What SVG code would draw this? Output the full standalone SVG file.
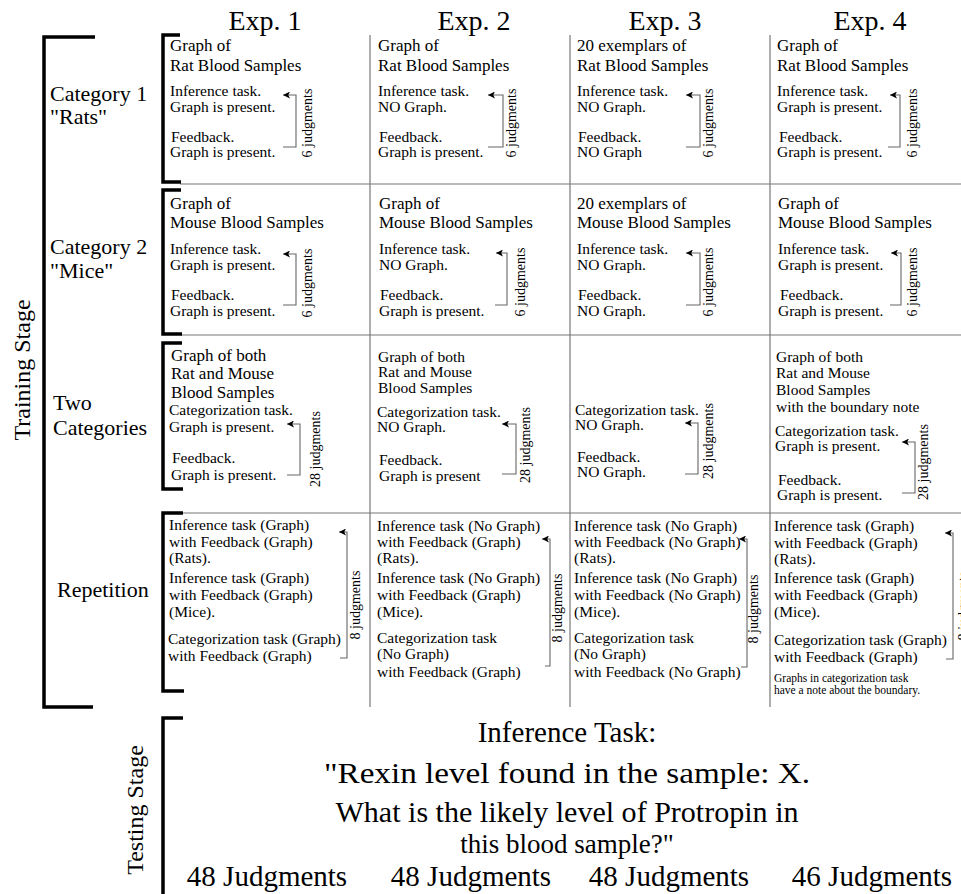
<svg xmlns="http://www.w3.org/2000/svg" width="961" height="894" viewBox="0 0 961 894">
<style>
text{font-family:"Liberation Serif","Times New Roman",serif;fill:#000}
.hd{font-size:28px;text-anchor:middle}
.lb{font-size:22px}
.st{font-size:24px;text-anchor:middle}
.t1{font-size:17px}
.t2{font-size:15.5px}
.t3{font-size:11.5px}
.jd{font-size:14px;text-anchor:middle}
.big{font-size:29px;text-anchor:middle}
.grid{stroke:#777;stroke-width:1.2;fill:none}
.br{stroke:#000;stroke-width:3.5;fill:none}
.ar{stroke:#666;stroke-width:1.1;fill:none}
</style>
<defs>
<marker id="ah" viewBox="0 0 10 10" refX="10" refY="5" markerWidth="10" markerHeight="7" orient="auto" markerUnits="userSpaceOnUse">
<path d="M0,0 L10,5 L0,10 L2.5,5 z" fill="#000"/>
</marker>
</defs>

<g id="headers">
<text class="hd" x="265" y="30">Exp. 1</text>
<text class="hd" x="474" y="30">Exp. 2</text>
<text class="hd" x="665" y="30">Exp. 3</text>
<text class="hd" x="870" y="30">Exp. 4</text>
</g>

<g id="grid">
<path class="grid" d="M180,184 H961 M181,335 H961 M183,513 H961 M370,35 V707 M570,35 V707 M770,35 V707"/>
</g>

<g id="brackets">
<path class="br" d="M95,37 H44 V707 H93"/>
<path class="br" d="M180,35 H163 V182 H181"/>
<path class="br" d="M181,190 H163 V334 H182"/>
<path class="br" d="M182,343 H163 V489 H183"/>
<path class="br" d="M183,513 H163 V691 H184"/>
<path class="br" d="M183,718 H163 V896"/>
</g>

<g id="stage-training">
<text class="st" transform="translate(30,370) rotate(-90)">Training Stage</text>
</g>
<g id="stage-testing">
<text class="st" transform="translate(143,810) rotate(-90)">Testing Stage</text>
</g>

<g id="label-cat1"><text class="lb" x="50" y="101">Category 1</text><text class="lb" x="50" y="124">"Rats"</text></g>
<g id="label-cat2"><text class="lb" x="50" y="254">Category 2</text><text class="lb" x="50" y="278">"Mice"</text></g>
<g id="label-two"><text class="lb" x="53" y="410">Two</text><text class="lb" x="53" y="435">Categories</text></g>
<g id="label-rep"><text class="lb" x="57" y="597">Repetition</text></g>

<!-- Row 1 -->
<g id="r1c1">
<text class="t1" x="170" y="51">Graph of</text>
<text class="t1" x="170" y="71">Rat Blood Samples</text>
<text class="t2" x="170" y="96">Inference task.</text>
<text class="t2" x="170" y="112">Graph is present.</text>
<text class="t2" x="171" y="142">Feedback.</text>
<text class="t2" x="170" y="157">Graph is present.</text>
</g>
<g id="r1c2">
<text class="t1" x="378" y="51">Graph of</text>
<text class="t1" x="378" y="71">Rat Blood Samples</text>
<text class="t2" x="378" y="96">Inference task.</text>
<text class="t2" x="378" y="112">NO Graph.</text>
<text class="t2" x="379" y="142">Feedback.</text>
<text class="t2" x="378" y="157">Graph is present.</text>
</g>
<g id="r1c3">
<text class="t1" x="577" y="51">20 exemplars of</text>
<text class="t1" x="577" y="71">Rat Blood Samples</text>
<text class="t2" x="577" y="96">Inference task.</text>
<text class="t2" x="577" y="112">NO Graph.</text>
<text class="t2" x="578" y="142">Feedback.</text>
<text class="t2" x="577" y="157">NO Graph</text>
</g>
<g id="r1c4">
<text class="t1" x="777" y="51">Graph of</text>
<text class="t1" x="777" y="71">Rat Blood Samples</text>
<text class="t2" x="777" y="96">Inference task.</text>
<text class="t2" x="777" y="112">Graph is present.</text>
<text class="t2" x="779" y="142">Feedback.</text>
<text class="t2" x="777" y="157">Graph is present.</text>
</g>

<!-- Row 2 -->
<g id="r2c1">
<text class="t1" x="170" y="209">Graph of</text>
<text class="t1" x="170" y="228">Mouse Blood Samples</text>
<text class="t2" x="170" y="254">Inference task.</text>
<text class="t2" x="170" y="270">Graph is present.</text>
<text class="t2" x="171" y="300">Feedback.</text>
<text class="t2" x="170" y="316">Graph is present.</text>
</g>
<g id="r2c2">
<text class="t1" x="379" y="209">Graph of</text>
<text class="t1" x="379" y="228">Mouse Blood Samples</text>
<text class="t2" x="379" y="254">Inference task.</text>
<text class="t2" x="379" y="270">NO Graph.</text>
<text class="t2" x="380" y="300">Feedback.</text>
<text class="t2" x="379" y="316">Graph is present.</text>
</g>
<g id="r2c3">
<text class="t1" x="577" y="209">20 exemplars of</text>
<text class="t1" x="577" y="228">Mouse Blood Samples</text>
<text class="t2" x="577" y="254">Inference task.</text>
<text class="t2" x="577" y="270">NO Graph.</text>
<text class="t2" x="578" y="300">Feedback.</text>
<text class="t2" x="577" y="316">NO Graph.</text>
</g>
<g id="r2c4">
<text class="t1" x="778" y="209">Graph of</text>
<text class="t1" x="778" y="228">Mouse Blood Samples</text>
<text class="t2" x="778" y="254">Inference task.</text>
<text class="t2" x="778" y="270">Graph is present.</text>
<text class="t2" x="780" y="300">Feedback.</text>
<text class="t2" x="778" y="316">Graph is present.</text>
</g>

<!-- Row 3 -->
<g id="r3c1">
<text class="t1" x="171" y="361">Graph of both</text>
<text class="t1" x="171" y="379">Rat and Mouse</text>
<text class="t1" x="171" y="398">Blood Samples</text>
<text class="t2" x="169" y="415">Categorization task.</text>
<text class="t2" x="169" y="432">Graph is present.</text>
<text class="t2" x="172" y="463">Feedback.</text>
<text class="t2" x="171" y="480">Graph is present.</text>
</g>
<g id="r3c2">
<text class="t2" x="378" y="362">Graph of both</text>
<text class="t2" x="378" y="377">Rat and Mouse</text>
<text class="t2" x="378" y="393">Blood Samples</text>
<text class="t2" x="377" y="417">Categorization task.</text>
<text class="t2" x="377" y="432">NO Graph.</text>
<text class="t2" x="379" y="465">Feedback.</text>
<text class="t2" x="379" y="481">Graph is present</text>
</g>
<g id="r3c3">
<text class="t2" x="575" y="415">Categorization task.</text>
<text class="t2" x="575" y="430">NO Graph.</text>
<text class="t2" x="577" y="462">Feedback.</text>
<text class="t2" x="577" y="477">NO Graph.</text>
</g>
<g id="r3c4">
<text class="t2" x="776" y="362">Graph of both</text>
<text class="t2" x="776" y="378">Rat and Mouse</text>
<text class="t2" x="776" y="395">Blood Samples</text>
<text class="t2" x="776" y="412">with the boundary note</text>
<text class="t2" x="775" y="436">Categorization task.</text>
<text class="t2" x="775" y="451">Graph is present.</text>
<text class="t2" x="778" y="485">Feedback.</text>
<text class="t2" x="777" y="500">Graph is present.</text>
</g>

<!-- Row 4 -->
<g id="r4c1">
<text class="t2" x="169" y="530">Inference task (Graph)</text>
<text class="t2" x="169" y="547">with Feedback (Graph)</text>
<text class="t2" x="169" y="563">(Rats).</text>
<text class="t2" x="169" y="583">Inference task (Graph)</text>
<text class="t2" x="169" y="600">with Feedback (Graph)</text>
<text class="t2" x="169" y="617">(Mice).</text>
<text class="t2" x="168" y="644">Categorization task (Graph)</text>
<text class="t2" x="168" y="661">with Feedback (Graph)</text>
</g>
<g id="r4c2">
<text class="t2" x="377" y="531">Inference task (No Graph)</text>
<text class="t2" x="377" y="547">with Feedback (Graph)</text>
<text class="t2" x="377" y="563">(Rats).</text>
<text class="t2" x="377" y="583">Inference task (No Graph)</text>
<text class="t2" x="377" y="600">with Feedback (Graph)</text>
<text class="t2" x="377" y="617">(Mice).</text>
<text class="t2" x="377" y="643">Categorization task</text>
<text class="t2" x="377" y="659">(No Graph)</text>
<text class="t2" x="377" y="677">with Feedback (Graph)</text>
</g>
<g id="r4c3">
<text class="t2" x="574" y="531">Inference task (No Graph)</text>
<text class="t2" x="574" y="547">with Feedback (No Graph)</text>
<text class="t2" x="574" y="563">(Rats).</text>
<text class="t2" x="574" y="583">Inference task (No Graph)</text>
<text class="t2" x="574" y="600">with Feedback (No Graph)</text>
<text class="t2" x="574" y="617">(Mice).</text>
<text class="t2" x="574" y="643">Categorization task</text>
<text class="t2" x="574" y="659">(No Graph)</text>
<text class="t2" x="574" y="677">with Feedback (No Graph)</text>
</g>
<g id="r4c4">
<text class="t2" x="774" y="531">Inference task (Graph)</text>
<text class="t2" x="774" y="548">with Feedback (Graph)</text>
<text class="t2" x="774" y="564">(Rats).</text>
<text class="t2" x="774" y="583">Inference task (Graph)</text>
<text class="t2" x="774" y="600">with Feedback (Graph)</text>
<text class="t2" x="774" y="617">(Mice).</text>
<text class="t2" x="774" y="645">Categorization task (Graph)</text>
<text class="t2" x="774" y="662">with Feedback (Graph)</text>
<text class="t3" x="774" y="682">Graphs in categorization task</text>
<text class="t3" x="774" y="694">have a note about the boundary.</text>
</g>

<!-- Testing stage -->
<g id="testing">
<text class="big" x="567" y="742">Inference Task:</text>
<text class="big" x="567" y="783" textLength="486" lengthAdjust="spacingAndGlyphs">"Rexin level found in the sample: X.</text>
<text class="big" x="567" y="822" textLength="463" lengthAdjust="spacingAndGlyphs">What is the likely level of Protropin in</text>
<text class="big" x="567" y="853" style="font-size:27px">this blood sample?"</text>
<text class="big" x="267" y="886">48 Judgments</text>
<text class="big" x="471" y="886">48 Judgments</text>
<text class="big" x="669" y="886">48 Judgments</text>
<text class="big" x="872" y="886">46 Judgments</text>
</g>

<!-- Connectors -->
<g id="connectors">
<path class="ar" marker-end="url(#ah)" d="M283,147 H296 V95 H283"/>
<path class="ar" marker-end="url(#ah)" d="M488,147 H503 V95 H488"/>
<path class="ar" marker-end="url(#ah)" d="M686,147 H700 V95 H686"/>
<path class="ar" marker-end="url(#ah)" d="M888,147 H900 V95 H890"/>
<path class="ar" marker-end="url(#ah)" d="M283,305 H296 V254 H283"/>
<path class="ar" marker-end="url(#ah)" d="M495,305 H507 V253 H496"/>
<path class="ar" marker-end="url(#ah)" d="M686,305 H700 V253 H686"/>
<path class="ar" marker-end="url(#ah)" d="M890,305 H901 V253 H891"/>
<path class="ar" marker-end="url(#ah)" d="M287,475 H300 V424 H287"/>
<path class="ar" marker-end="url(#ah)" d="M502,474 H516 V424 H502"/>
<path class="ar" marker-end="url(#ah)" d="M685,474 H698 V423 H685"/>
<path class="ar" marker-end="url(#ah)" d="M902,493 H915 V442 H902"/>
<path class="ar" marker-end="url(#ah)" d="M340,658 H347 V532 H339"/>
<path class="ar" marker-end="url(#ah)" d="M545,666 H550 V539 H542"/>
<path class="ar" marker-end="url(#ah)" d="M741,667 H747 V539 H739"/>
<path class="ar" marker-end="url(#ah)" d="M946,659 H953 V533 H945"/>
<g id="counts">
<text class="jd" transform="translate(312,123) rotate(-90)">6 judgments</text>
<text class="jd" transform="translate(516,123) rotate(-90)">6 judgments</text>
<text class="jd" transform="translate(713,123) rotate(-90)">6 judgments</text>
<text class="jd" transform="translate(917,123) rotate(-90)">6 judgments</text>
<text class="jd" transform="translate(312,283) rotate(-90)">6 judgments</text>
<text class="jd" transform="translate(525,282) rotate(-90)">6 judgments</text>
<text class="jd" transform="translate(713,282) rotate(-90)">6 judgments</text>
<text class="jd" transform="translate(917,282) rotate(-90)">6 judgments</text>
<text class="jd" transform="translate(320,449) rotate(-90)">28 judgments</text>
<text class="jd" transform="translate(530,445) rotate(-90)">28 judgments</text>
<text class="jd" transform="translate(713,441) rotate(-90)">28 judgments</text>
<text class="jd" transform="translate(928,462) rotate(-90)">28 judgments</text>
<text class="jd" transform="translate(360,605) rotate(-90)">8 judgments</text>
<text class="jd" transform="translate(562,608) rotate(-90)">8 judgments</text>
<text class="jd" transform="translate(758,609) rotate(-90)">8 judgments</text>
<text class="jd" transform="translate(968,606) rotate(-90)">8 judgments</text>
</g>
</g>
</svg>
